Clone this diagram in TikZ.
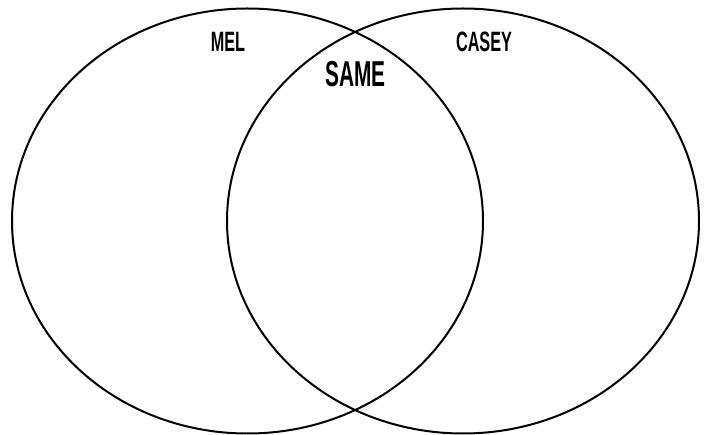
\documentclass[tikz,border=0pt]{standalone}
\usepackage{fontspec}
\newfontfamily\cond[FakeStretch=0.58]{Liberation Sans}
\tikzset{
  venn/.style={draw=black, line width=2pt},
  lbl/.style={inner sep=0pt, font=\cond\bfseries\fontsize{28}{28}\selectfont},
  biglbl/.style={inner sep=0pt, font=\cond\bfseries\fontsize{36}{36}\selectfont}
}
\begin{document}
\begin{tikzpicture}[x=1pt,y=1pt]
\useasboundingbox (0,0) rectangle (707,434);
\draw[venn] (247.5,213) ellipse [x radius=235.5, y radius=212.5];
\draw[venn] (463,213) ellipse [x radius=236, y radius=212.5];
\node[lbl] (mel) at (228,392) {MEL};
\node[lbl] (casey) at (484,392) {CASEY};
\node[biglbl] (same) at (355.5,360) {SAME};
\end{tikzpicture}
\end{document}
